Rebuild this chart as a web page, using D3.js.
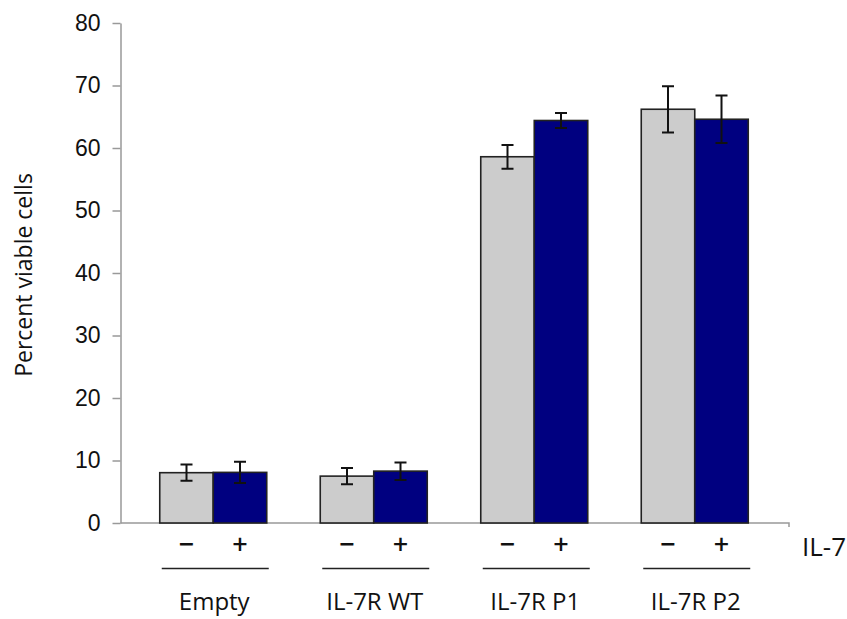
<!DOCTYPE html>
<html>
<head>
<meta charset="utf-8">
<script src="https://cdn.jsdelivr.net/npm/d3@7"></script>
<style>
  body { margin: 0; background: #fff; }
  svg { display: block; }
</style>
</head>
<body>
<div id="chart"></div>
<script>
const groups = ["Empty", "IL-7R WT", "IL-7R P1", "IL-7R P2"];
const conditions = ["\u2212", "+"];
const minusValues = [8.05, 7.5, 58.6, 66.2];
const plusValues = [8.1, 8.3, 64.4, 64.6];
const minusErrors = [1.3, 1.3, 1.9, 3.7];
const plusErrors = [1.7, 1.4, 1.2, 3.8];
const yTicks = [0, 10, 20, 30, 40, 50, 60, 70, 80];
const colors = ["#cccccc", "#000080"];

let width = 847;
let height = 619;

let svg = d3.select("#chart")
  .append("svg")
  .attr("width", width)
  .attr("height", height);

let y = d3.scaleLinear().domain([0, 80]).range([523, 23]);

let x = d3.scaleBand()
  .domain(groups)
  .range([133, 775])
  .paddingInner(1 / 3)
  .paddingOuter(1 / 6);

let xSub = d3.scaleBand()
  .domain(conditions)
  .range([0, x.bandwidth()]);

// y axis
let yAxis = svg.append("g")
  .attr("transform", "translate(120.5,0)")
  .call(d3.axisLeft(y).tickValues(yTicks).tickSize(8).tickPadding(12).tickSizeOuter(0));

yAxis.selectAll("path, line").attr("stroke", "#999").attr("stroke-width", 1.5);
yAxis.selectAll("text")
  .attr("font-family", "Liberation Sans, Arial, sans-serif")
  .attr("font-size", 23)
  .attr("fill", "#111");

svg.append("text")
  .attr("transform", "translate(32," + (y(40) + 2) + ") rotate(-90)")
  .attr("text-anchor", "middle")
  .attr("font-family", "Open Sans, sans-serif")
  .attr("font-size", 23)
  .attr("fill", "#111")
  .text("Percent viable cells");

// x axis line
svg.append("path")
  .attr("d", "M120.5," + y(0) + "H789V" + (y(0) + 4))
  .attr("fill", "none")
  .attr("stroke", "#999")
  .attr("stroke-width", 1.5);

// rows of data
let rows = groups.map(function (g, i) {
  return {
    group: g,
    bars: [
      { cond: conditions[0], value: minusValues[i], err: minusErrors[i], color: colors[0] },
      { cond: conditions[1], value: plusValues[i], err: plusErrors[i], color: colors[1] }
    ]
  };
});

let group = svg.selectAll(".group")
  .data(rows)
  .enter()
  .append("g")
  .attr("class", "group")
  .attr("transform", function (d) { return "translate(" + x(d.group) + ",0)"; });

let bar = group.selectAll(".bar")
  .data(function (d) { return d.bars; })
  .enter()
  .append("g")
  .attr("class", "bar");

bar.append("rect")
  .attr("x", function (d) { return xSub(d.cond); })
  .attr("y", function (d) { return y(d.value); })
  .attr("width", xSub.bandwidth())
  .attr("height", function (d) { return y(0) - y(d.value); })
  .attr("fill", function (d) { return d.color; })
  .attr("stroke", "#222")
  .attr("stroke-width", 1.6);

// error bars
let cap = 6;
bar.append("path")
  .attr("d", function (d) {
    let cx = xSub(d.cond) + xSub.bandwidth() / 2;
    let top = y(d.value + d.err), bot = y(d.value - d.err);
    return "M" + (cx - cap) + "," + top + "H" + (cx + cap) +
      "M" + cx + "," + top + "V" + bot +
      "M" + (cx - cap) + "," + bot + "H" + (cx + cap);
  })
  .attr("fill", "none")
  .attr("stroke", "#111")
  .attr("stroke-width", 2);

// condition labels
bar.append("text")
  .attr("x", function (d) { return xSub(d.cond) + xSub.bandwidth() / 2; })
  .attr("y", 554)
  .attr("text-anchor", "middle")
  .attr("font-family", "Open Sans, sans-serif")
  .attr("font-size", 27)
  .attr("font-weight", 600)
  .attr("fill", "#111")
  .text(function (d) { return d.cond; });

// group underline and label
group.append("line")
  .attr("x1", 2)
  .attr("x2", x.bandwidth() + 2)
  .attr("y1", 568.5)
  .attr("y2", 568.5)
  .attr("stroke", "#222")
  .attr("stroke-width", 1.5);

group.append("text")
  .attr("x", x.bandwidth() / 2 + 1)
  .attr("y", 610)
  .attr("text-anchor", "middle")
  .attr("font-family", "Open Sans, sans-serif")
  .attr("font-size", 24)
  .attr("fill", "#111")
  .text(function (d) { return d.group; });

svg.append("text")
  .attr("x", 802)
  .attr("y", 556)
  .attr("font-family", "Open Sans, sans-serif")
  .attr("font-size", 26)
  .attr("fill", "#111")
  .text("IL-7");
</script>
</body>
</html>
